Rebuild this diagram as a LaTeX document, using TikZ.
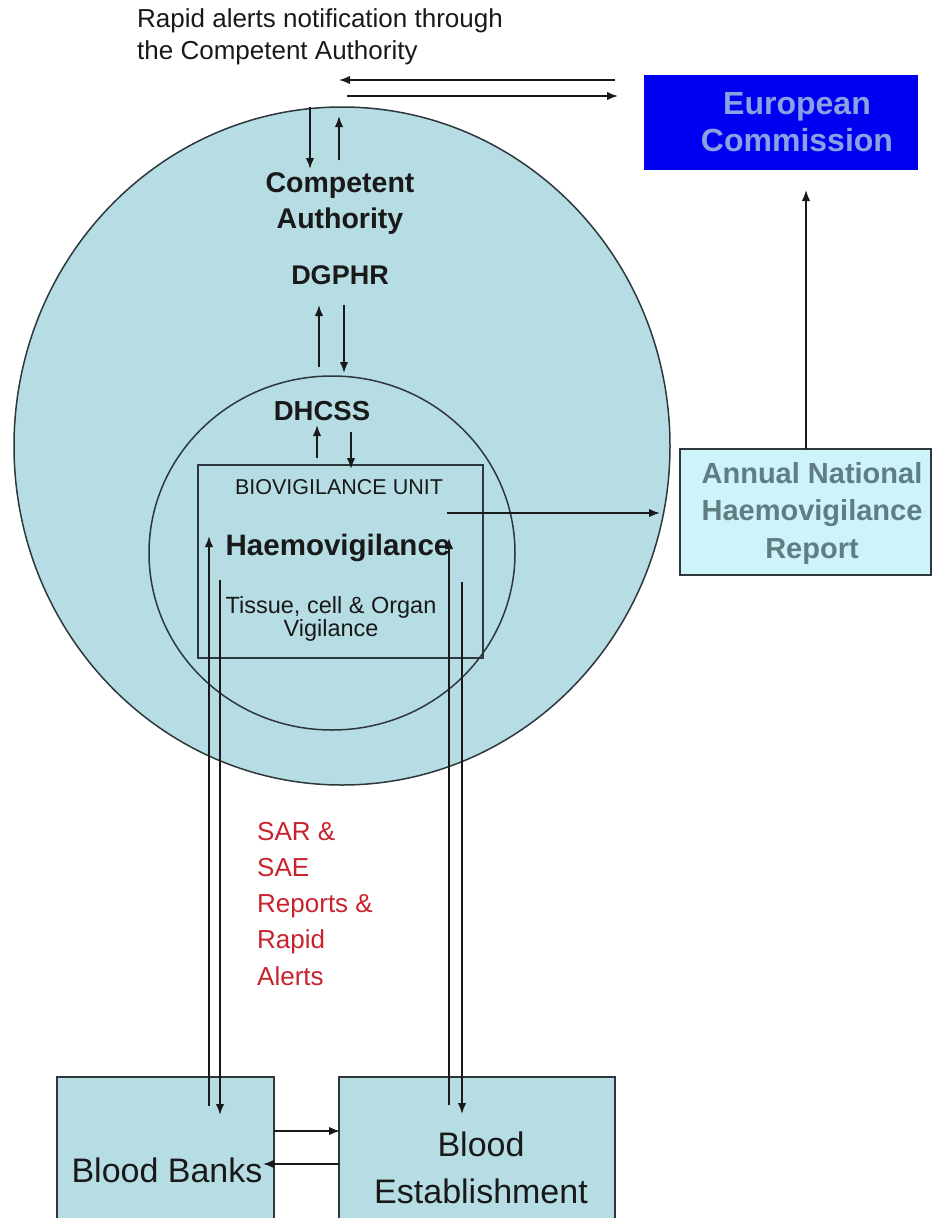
\documentclass[tikz,border=0pt]{standalone}
\usepackage{fontspec}
\setmainfont{Liberation Sans}
\usetikzlibrary{arrows.meta,shapes.geometric}
\definecolor{fillblue}{RGB}{182,221,227}
\definecolor{lightcyan}{RGB}{206,244,249}
\definecolor{ecblue}{RGB}{0,0,240}
\definecolor{ectext}{RGB}{140,160,228}
\definecolor{anntext}{RGB}{95,125,130}
\definecolor{sarred}{RGB}{200,35,45}
\definecolor{edgecol}{RGB}{45,55,60}
\definecolor{inkcol}{RGB}{25,25,25}
\newcommand{\fsz}[2]{\fontsize{#1}{#2}\selectfont}
\begin{document}
\begin{tikzpicture}[x=1pt,y=-1pt,
  conn/.style={draw=inkcol, line width=1.8pt, -{Latex[length=11pt,width=8.5pt]}},
  lbl/.style={inner sep=0pt, align=center, text=inkcol},
  boxshape/.style={draw=edgecol, line width=1.5pt, inner sep=0pt},
  ringshape/.style={ellipse, draw=edgecol, line width=1.5pt, inner sep=0pt}]
\useasboundingbox (0,0) rectangle (937,1218);
\clip (0,0) rectangle (937,1218);

% circles and units
\node[ringshape, fill=fillblue, minimum width=656pt, minimum height=678pt] (outer) at (342,446) {};
\node[ringshape, minimum width=366pt, minimum height=354pt] (inner) at (332,553) {};
\node[boxshape, minimum width=285pt, minimum height=193pt] (bio) at (340.5,561.5) {};

% boxes
\node[boxshape, draw=none, fill=ecblue, minimum width=274pt, minimum height=95pt] (ec) at (781,122.5) {};
\node[lbl, text=ectext, font=\bfseries\fsz{32}{37}] (ectxt) at (797,122) {European\\Commission};
\node[boxshape, fill=lightcyan, minimum width=251pt, minimum height=126pt] (ann) at (805.5,512) {};
\node[lbl, text=anntext, font=\bfseries\fsz{29}{37.5}] (anntxt) at (812,513) {Annual National\\Haemovigilance\\Report};
\node[boxshape, fill=fillblue, minimum width=217pt, minimum height=180pt] (bb) at (165.5,1167) {};
\node[lbl, font=\fsz{34}{47}] (bbtxt) at (167,1170) {Blood Banks};
\node[boxshape, fill=fillblue, minimum width=276pt, minimum height=180pt] (be) at (477,1167) {};
\node[lbl, font=\fsz{34}{47}] (betxt) at (481,1168) {Blood\\Establishment};

% labels
\node[lbl, align=left, anchor=north west, font=\fsz{26}{32}] (rapid) at (137,8) {Rapid alerts notification through\\the Competent Authority};
\node[lbl, font=\bfseries\fsz{28.5}{36}] (ca) at (340,204) {Competent\\Authority};
\node[lbl, font=\bfseries\fsz{27}{32}] (dgphr) at (340,275) {DGPHR};
\node[lbl, font=\bfseries\fsz{27.5}{32}] (dhcss) at (322,411) {DHCSS};
\node[lbl, font=\fsz{21.5}{26}] (biou) at (339,487) {BIOVIGILANCE UNIT};
\node[lbl, font=\bfseries\fsz{29.5}{34}] (haemo) at (338,548) {Haemovigilance};
\node[lbl, font=\fsz{23.5}{23.5}] (tissue) at (331,619) {Tissue, cell \& Organ\\Vigilance};
\node[lbl, align=left, anchor=north west, text=sarred, font=\fsz{26}{36.2}] (sar) at (257,822) {SAR \&\\SAE\\Reports \&\\Rapid\\Alerts};

% connector end points
\coordinate (a1s) at (615,80);  \coordinate (a1e) at (339,80);
\coordinate (a2s) at (347,96);  \coordinate (a2e) at (618,96);
\coordinate (a3s) at (310,107); \coordinate (a3e) at (310,169);
\coordinate (a4s) at (339,160); \coordinate (a4e) at (339,116);
\coordinate (a5s) at (319,367); \coordinate (a5e) at (319,305);
\coordinate (a6s) at (344,305); \coordinate (a6e) at (344,373);
\coordinate (a7s) at (317,458); \coordinate (a7e) at (317,425);
\coordinate (a8s) at (351,432); \coordinate (a8e) at (351,469);
\coordinate (a9s) at (447,513); \coordinate (a9e) at (660,513);
\coordinate (a10s) at (806,449); \coordinate (a10e) at (806,190);
\coordinate (l1s) at (209,1106); \coordinate (l1e) at (209,536);
\coordinate (l2s) at (220,580);  \coordinate (l2e) at (220,1115);
\coordinate (r1s) at (449,1105); \coordinate (r1e) at (449,538);
\coordinate (r2s) at (462,582);  \coordinate (r2e) at (462,1114);
\coordinate (h1s) at (274,1131); \coordinate (h1e) at (340,1131);
\coordinate (h2s) at (339,1164); \coordinate (h2e) at (263,1164);

\draw[conn] (a1s) -- (a1e);
\draw[conn] (a2s) -- (a2e);
\draw[conn] (a3s) -- (a3e);
\draw[conn] (a4s) -- (a4e);
\draw[conn] (a5s) -- (a5e);
\draw[conn] (a6s) -- (a6e);
\draw[conn] (a7s) -- (a7e);
\draw[conn] (a8s) -- (a8e);
\draw[conn] (a9s) -- (a9e);
\draw[conn] (a10s) -- (a10e);
\draw[conn] (l1s) -- (l1e);
\draw[conn] (l2s) -- (l2e);
\draw[conn] (r1s) -- (r1e);
\draw[conn] (r2s) -- (r2e);
\draw[conn] (h1s) -- (h1e);
\draw[conn] (h2s) -- (h2e);
\end{tikzpicture}
\end{document}
